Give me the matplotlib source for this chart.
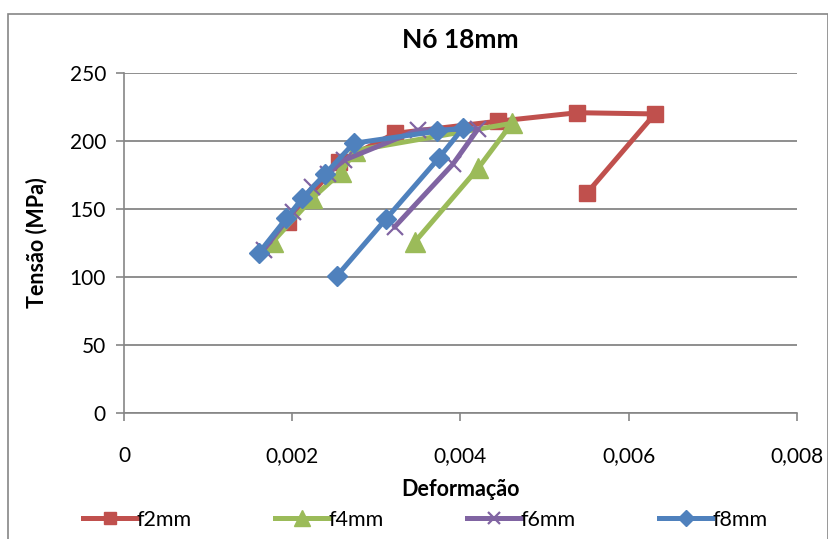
import matplotlib
matplotlib.use("Agg")
import matplotlib.pyplot as plt
from matplotlib.patches import Rectangle
from matplotlib.ticker import FuncFormatter

plt.rcParams['font.family'] = ['Lato', 'DejaVu Sans']

# Strain (Deformação) and stress (Tensão, MPa) for each series
f2_x = [0.00195, 0.00256, 0.00322, 0.00444, 0.00539, 0.00631, 0.00550]
f2_y = [140.7, 184.8, 205.6, 214.5, 220.8, 219.9, 161.5]

f4_x = [0.00177, 0.00224, 0.00258, 0.00275, 0.00461, 0.00421, 0.00346]
f4_y = [126.0, 158.0, 177.0, 193.0, 213.0, 180.0, 126.0]

f6_x = [0.00166, 0.00201, 0.00224, 0.00242, 0.00262, 0.00349, 0.00421, 0.00391, 0.00322]
f6_y = [120.0, 148.0, 166.0, 176.0, 186.0, 208.0, 209.0, 183.0, 137.0]

f8_x = [0.00160, 0.00193, 0.00212, 0.00239, 0.00273, 0.00372, 0.00403, 0.00374, 0.00311, 0.00253]
f8_y = [117.4, 143.1, 157.8, 175.7, 198.3, 207.2, 209.5, 187.3, 142.4, 100.7]

series_names = ["f2mm", "f4mm", "f6mm", "f8mm"]
x_ticks = [0, 0.002, 0.004, 0.006, 0.008]
y_ticks = [0, 50, 100, 150, 200, 250]

fig = plt.figure(figsize=(8.29, 5.39), dpi=100)
W, H = 829, 539

# chart-area border
fig.patches.append(Rectangle((8 / W, -0.1), (828 - 8) / W, 1.1 - 14 / H,
                             transform=fig.transFigure, fill=False,
                             edgecolor="#868686", linewidth=1.2))

ax = fig.add_axes([124 / W, 1 - 413 / H, (797 - 124) / W, (413 - 73) / H])

red, green, purple, blue = "#C0504D", "#9BBB59", "#8064A2", "#4F81BD"
lw = 3.6
ax.plot(f2_x, f2_y, color=red, lw=lw, marker="s", ms=11, label=series_names[0], zorder=3)
ax.plot(f4_x, f4_y, color=green, lw=lw, marker="^", ms=14, label=series_names[1], zorder=4)
ax.plot(f6_x, f6_y, color=purple, lw=lw, marker="x", ms=11, mew=1.6, label=series_names[2], zorder=5)
ax.plot(f8_x, f8_y, color=blue, lw=lw, marker="D", ms=10, label=series_names[3], zorder=6)

ax.set_xlim(0, 0.008)
ax.set_ylim(0, 250)
ax.set_xticks(x_ticks)
ax.set_yticks(y_ticks)
ax.xaxis.set_major_formatter(FuncFormatter(lambda v, p: "0" if v == 0 else f"{v:.3f}".replace(".", ",")))
ax.yaxis.grid(True, color="#868686", lw=1.3)
ax.set_axisbelow(True)
for s in ["top", "right"]:
    ax.spines[s].set_visible(False)
for s in ["left", "bottom"]:
    ax.spines[s].set_color("#868686")
    ax.spines[s].set_linewidth(1.2)
ax.tick_params(axis="both", direction="out", length=6, width=1.2, color="#868686",
               labelsize=15, labelcolor="black")
ax.tick_params(axis="x", pad=18)
ax.tick_params(axis="y", pad=7)

ax.set_title("Nó 18mm", fontsize=19, fontweight="bold", pad=18)
ax.set_ylabel("Tensão (MPa)", fontsize=15.5, fontweight="bold", labelpad=16)
ax.set_xlabel("Deformação", fontsize=15.5, fontweight="bold", labelpad=9)

fig.legend(loc="center", bbox_to_anchor=(0.513, 1 - 520 / H), ncol=4, frameon=False,
           fontsize=15.5, handlelength=2.5, handletextpad=0.0, columnspacing=3.85,
           markerscale=0.85)

fig.savefig("out.png", dpi=100)
